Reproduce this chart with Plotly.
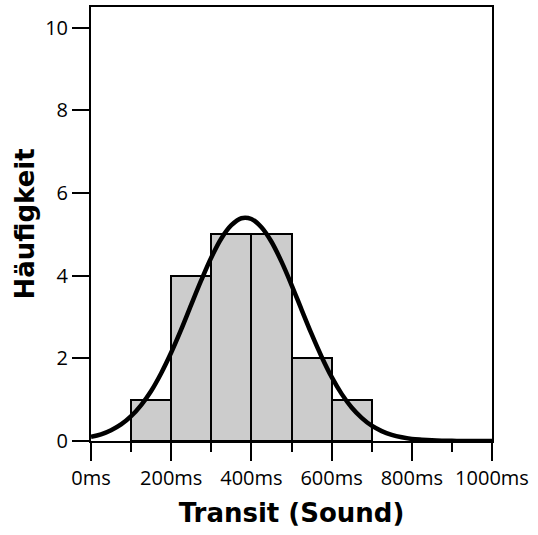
import plotly.graph_objects as go

# Histogram data
bin_centers = [150, 250, 350, 450, 550, 650]
counts = [1, 4, 5, 5, 2, 1]
bin_width = 100

# Fitted normal curve
curve_x = [0, 25, 50, 75, 100, 125, 150, 175, 200, 225, 250, 275, 300, 325, 350, 375,
           400, 425, 450, 475, 500, 525, 550, 575, 600, 625, 650, 675, 700, 725, 750,
           775, 800, 825, 850, 875, 900, 925, 950, 975, 1000]
curve_y = [0.10, 0.16, 0.26, 0.40, 0.60, 0.87, 1.21, 1.64, 2.14, 2.70, 3.30, 3.89, 4.44,
           4.90, 5.22, 5.39, 5.37, 5.17, 4.82, 4.34, 3.78, 3.18, 2.59, 2.04, 1.55, 1.14,
           0.81, 0.56, 0.37, 0.24, 0.15, 0.09, 0.05, 0.03, 0.016, 0.008, 0.004, 0.002,
           0.001, 0.0, 0.0]

x_ticks = [0, 200, 400, 600, 800, 1000]
y_ticks = [0, 2, 4, 6, 8, 10]

tick_family = "Open Sans"
title_family = "DejaVu Sans"

fig = go.Figure()
fig.add_trace(go.Bar(
    x=bin_centers, y=counts, width=[bin_width] * len(counts),
    marker=dict(color="#cccccc", line=dict(color="black", width=2)),
    showlegend=False,
))
fig.add_trace(go.Scatter(
    x=curve_x, y=curve_y, mode="lines",
    line=dict(color="black", width=4.5, shape="spline"),
    showlegend=False, cliponaxis=True,
))

fig.update_layout(
    width=538, height=535,
    margin=dict(l=91, r=46, t=5, b=94),
    plot_bgcolor="white", paper_bgcolor="white",
    font=dict(family=tick_family, size=20, color="black"),
    bargap=0,
)
fig.update_xaxes(
    range=[0, 1000], tickvals=x_ticks, ticktext=[f"{v}ms" for v in x_ticks],
    ticks="outside", ticklen=18, tickwidth=2, tickcolor="black",
    minor=dict(dtick=100, ticks="outside", ticklen=9, tickwidth=2, tickcolor="black", showgrid=False),
    showline=True, linecolor="black", linewidth=2, mirror=True,
    showgrid=False, zeroline=False,
    title=dict(text="<b>Transit (Sound)</b>", font=dict(size=26, family=title_family), standoff=14),
    tickfont=dict(size=20, family=tick_family),
)
fig.update_yaxes(
    range=[0, 10.5], tickvals=y_ticks,
    ticks="outside", ticklen=17, tickwidth=2, tickcolor="black",
    showline=True, linecolor="black", linewidth=2, mirror=True,
    showgrid=False, zeroline=False,
    title=dict(text="<b>Häufigkeit</b>", font=dict(size=26, family=title_family), standoff=3),
    tickfont=dict(size=20, family=tick_family),
)

fig.write_html("out.html")
